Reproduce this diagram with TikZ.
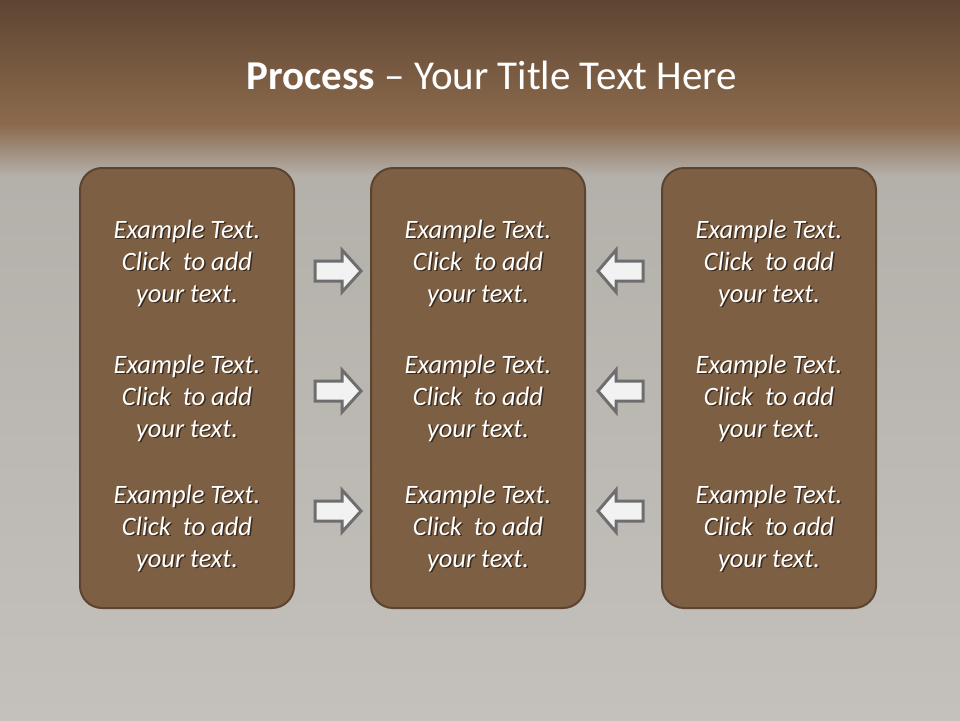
\documentclass[tikz,border=0pt]{standalone}
\usepackage{fontspec}
\setmainfont{Carlito}
\usetikzlibrary{positioning}

\definecolor{bandtop}{HTML}{5E4532}
\definecolor{bandbot}{HTML}{8C6B4D}
\definecolor{stone}{HTML}{B3AFA9}
\definecolor{stonelow}{HTML}{C4C0BB}
\definecolor{boxfill}{HTML}{7D5F43}
\definecolor{boxline}{HTML}{5C4430}
\definecolor{arrowline}{HTML}{6E6E6E}
\definecolor{arrowfill}{HTML}{F2F2F2}

\tikzset{
  procbox/.style={draw=boxline,line width=2pt,fill=boxfill,rounded corners=22pt,
    minimum width=214pt,minimum height=440pt},
  boxtext/.style={text=white,align=center,font=\fontsize{26.5}{32}\selectfont\itshape},
  shadowtext/.style={boxtext,text=black,text opacity=0.55},
  titletext/.style={text=white,font=\fontsize{41}{44}\selectfont},
  blockarrow/.style={draw=arrowline,line width=3pt,fill=arrowfill,line join=miter}
}

\begin{document}
\begin{tikzpicture}[x=1pt,y=-1pt]
\useasboundingbox (0,0) rectangle (960,720);
% background
\shade[top color=stone,bottom color=stonelow] (0,150) rectangle (960,720);
\shade[top color=bandtop,bottom color=bandbot] (0,0) rectangle (960,125);
\shade[top color=bandbot,bottom color=stone] (0,125) rectangle (960,175);
\node[titletext] (title) at (492,75) {\textbf{Process} -- Your Title Text Here};

% boxes
\foreach \i/\x in {1/187,2/478,3/769}
{\node[procbox] (b\i) at (\x,388) {};
 \foreach \j/\y in {1/263,2/398,3/528}
 {\node[shadowtext] at (\x+1.5,\y+1.5) {Example Text.\\Click~ to add\\your text.};
  \node[boxtext] (t\i\j) at (\x,\y) {Example Text.\\Click~ to add\\your text.};}
}

% arrows
\foreach \y in {271,391,511}
{\draw[blockarrow] (315,\y-10) -- (342,\y-10) -- (342,\y-21) -- (361,\y)
   -- (342,\y+21) -- (342,\y+10) -- (315,\y+10) -- cycle;
 \draw[blockarrow] (643,\y-10) -- (616,\y-10) -- (616,\y-21) -- (598,\y)
   -- (616,\y+21) -- (616,\y+10) -- (643,\y+10) -- cycle;}

\end{tikzpicture}
\end{document}
